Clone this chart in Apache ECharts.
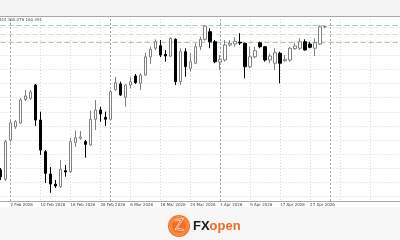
<!DOCTYPE html>
<html>
<head>
<meta charset="utf-8">
<script src="https://cdn.jsdelivr.net/npm/echarts/dist/echarts.min.js"></script>
<style>
html,body{margin:0;padding:0;background:#fff;}
#chart{width:400px;height:240px;}
</style>
</head>
<body>
<div id="chart"></div>
<script>
// Trading-day categories (daily candles)
const dates = ['29 Jan 2026','30 Jan 2026','2 Feb 2026','3 Feb 2026','4 Feb 2026','5 Feb 2026','6 Feb 2026','9 Feb 2026','10 Feb 2026','11 Feb 2026','12 Feb 2026','13 Feb 2026','16 Feb 2026','17 Feb 2026','18 Feb 2026','19 Feb 2026','20 Feb 2026','23 Feb 2026','24 Feb 2026','25 Feb 2026','26 Feb 2026','27 Feb 2026','2 Mar 2026','3 Mar 2026','4 Mar 2026','5 Mar 2026','6 Mar 2026','9 Mar 2026','10 Mar 2026','11 Mar 2026','12 Mar 2026','13 Mar 2026','16 Mar 2026','17 Mar 2026','18 Mar 2026','19 Mar 2026','20 Mar 2026','23 Mar 2026','24 Mar 2026','25 Mar 2026','26 Mar 2026','27 Mar 2026','30 Mar 2026','31 Mar 2026','1 Apr 2026','2 Apr 2026','3 Apr 2026','6 Apr 2026','7 Apr 2026','8 Apr 2026','9 Apr 2026','10 Apr 2026','13 Apr 2026','14 Apr 2026','15 Apr 2026','16 Apr 2026','17 Apr 2026','20 Apr 2026','21 Apr 2026','22 Apr 2026','23 Apr 2026','24 Apr 2026','27 Apr 2026','28 Apr 2026','29 Apr 2026','30 Apr 2026'];
// empty future space on the right of the chart
const futureDates = ['1 May 2026','4 May 2026','5 May 2026','6 May 2026','7 May 2026','8 May 2026','11 May 2026','12 May 2026','13 May 2026','14 May 2026','15 May 2026','18 May 2026','19 May 2026','20 May 2026','21 May 2026'];

const opens  = [149.89,149.23,152.01,152.93,153.21,154.87,154.95,155.89,153.42,151.18,149.60,148.88,148.71,149.84,149.77,151.82,152.13,151.89,151.65,153.47,154.13,153.61,153.47,155.56,155.97,155.03,155.89,156.53,156.01,156.60,157.89,158.49,158.67,158.06,157.94,159.12,156.13,158.25,157.07,157.43,158.60,159.12,159.66,158.95,157.52,157.66,158.72,158.79,158.91,158.84,157.19,157.89,158.88,158.60,157.66,157.43,158.13,157.61,157.66,158.46,158.49,158.95,158.79,158.49,158.79,160.00];
const closes = [149.41,151.89,153.21,153.30,154.83,155.12,155.40,153.42,151.30,149.65,148.90,148.76,149.94,149.75,151.89,152.17,152.22,151.70,153.47,154.13,153.85,153.47,155.42,156.06,155.19,155.89,156.13,156.06,156.60,157.89,158.42,158.95,158.01,157.94,159.19,156.13,158.25,157.19,157.54,158.60,159.12,160.06,158.95,157.54,157.71,158.72,158.84,158.98,158.86,157.19,157.89,158.32,158.60,157.66,157.94,158.18,157.43,157.71,158.49,158.65,158.95,158.37,158.56,158.88,160.01,160.02];
const lows   = [149.18,149.11,151.87,152.79,153.14,154.76,154.83,153.00,150.95,148.97,148.28,148.62,148.62,149.41,149.68,151.53,152.01,150.76,151.58,152.71,153.30,153.00,153.42,155.47,155.12,154.36,155.66,155.97,155.54,156.53,157.38,158.37,157.87,157.54,157.87,155.89,155.89,156.48,156.83,157.38,158.37,159.03,158.49,157.43,156.95,157.54,158.60,158.60,158.72,156.37,157.07,157.78,158.49,157.54,157.43,156.95,156.01,157.54,157.54,158.37,158.37,158.32,158.49,157.94,158.72,159.90];
const highs  = [150.03,152.01,153.42,153.42,154.98,155.54,155.54,155.97,154.01,151.30,150.10,149.18,150.59,150.24,152.15,152.67,152.64,152.01,154.08,154.83,154.36,154.01,155.54,156.46,156.13,155.97,156.44,156.67,156.74,158.18,158.60,159.12,159.07,158.37,159.27,159.19,158.49,158.49,158.13,158.84,159.31,160.11,159.90,159.07,158.01,159.07,159.07,159.27,159.55,158.88,158.60,158.60,158.95,158.65,158.13,158.49,158.25,158.01,158.60,158.88,159.19,159.12,158.95,159.19,160.11,160.09];

const priceGridLevels = [148,149,150,151,152,153,154,155,156,157,158,159,160];
const resistanceLevels = [160.11, 159.48, 158.91];
const monthStartIndex = [2, 22, 44, 66];
const infoText = '160.443 160.076 160.391';

const categories = dates.concat(futureDates);
const candleData = opens.map((o, i) => [o, closes[i], lows[i], highs[i]]);

const chart = echarts.init(document.getElementById('chart'), null, {renderer: 'canvas'});

const gridLines = priceGridLevels.map(v => ({yAxis: v, lineStyle: {color: '#d4d4d4', type: [1, 2], width: 1}}));
const resLines = resistanceLevels.map((v, i) => ({yAxis: v, lineStyle: {color: i === 1 ? '#c4e4c4' : '#9fd19f', type: [5, 3], width: 1}}));
const sepLines = monthStartIndex.map(v => ({xAxis: v, lineStyle: {color: '#a6a6a6', type: [2, 2], width: 1}}));

const option = {
  backgroundColor: '#ffffff',
  animation: false,
  grid: {left: 0.5, right: -0.5, top: 16, bottom: 39},
  xAxis: {
    type: 'category',
    data: categories,
    boundaryGap: false,
    axisLine: {show: true, lineStyle: {color: '#a8a8a8', width: 1}},
    axisTick: {show: false},
    axisLabel: {
      show: true,
      interval: (idx) => idx >= 2 && idx <= 62 && (idx - 2) % 6 === 0,
      fontSize: 4,
      fontFamily: 'DejaVu Sans',
      color: '#404040',
      align: 'left',
      margin: 2,
      hideOverlap: false
    },
    splitLine: {
      show: true,
      interval: (idx) => idx >= 2 && (idx - 2) % 6 === 0,
      lineStyle: {color: '#d8d8d8', type: [1, 2], width: 1}
    }
  },
  yAxis: {
    type: 'value',
    show: false,
    min: 147.696,
    max: 160.770,
    splitLine: {show: false}
  },
  series: [
    {
      type: 'line',
      data: [],
      silent: true,
      markLine: {
        z: 1,
        silent: true,
        symbol: ['none', 'none'],
        label: {show: false},
        animation: false,
        data: gridLines.concat(sepLines).concat(resLines)
      }
    },
    {
      type: 'candlestick',
      z: 3,
      barWidth: 3,
      data: candleData,
      itemStyle: {
        color: '#ffffff',
        color0: '#000000',
        borderColor: '#808080',
        borderColor0: '#000000',
        borderWidth: 1
      }
    }
  ],
  graphic: [
    {type: 'rect', shape: {x: 0, y: 0, width: 400, height: 16}, style: {fill: '#f4f4f4'}, z: 10},
    {type: 'line', shape: {x1: 0, y1: 16.5, x2: 400, y2: 16.5}, style: {stroke: '#a9a9a9', lineWidth: 1}, z: 11},
    {type: 'text', x: 42, y: 19.5, style: {text: infoText, fontSize: 4, fontFamily: 'DejaVu Sans', fill: '#505050', align: 'right', verticalAlign: 'middle'}, z: 11},
    {type: 'rect', shape: {x: 0, y: 207, width: 400, height: 33}, style: {fill: '#f6f6f6'}, z: 10},
    {type: 'circle', shape: {cx: 179, cy: 226, r: 11}, style: {fill: '#f36f21'}, z: 11},
    {type: 'circle', shape: {cx: 179, cy: 226, r: 9.3}, style: {fill: 'none', stroke: '#fbc3a0', lineWidth: 0.6}, z: 12},
    {type: 'circle', shape: {cx: 179, cy: 226, r: 7.6}, style: {fill: 'none', stroke: '#fbc3a0', lineWidth: 0.5}, z: 12},
    {type: 'polyline', shape: {points: [[174.5, 220.5], [182, 219.5], [176, 229], [184, 230]]}, style: {stroke: '#ffffff', lineWidth: 1.8, fill: 'none'}, z: 13},
    {type: 'polyline', shape: {points: [[174.5, 220.5], [182, 219.5], [176, 229], [184, 230]]}, style: {stroke: '#e0520d', lineWidth: 0.8, fill: 'none'}, z: 14},
    {type: 'text', x: 193, y: 226, style: {
      text: '{a|FX}{b|open}',
      verticalAlign: 'middle',
      rich: {
        a: {fontSize: 13, fontWeight: 'bold', fontFamily: 'Liberation Sans', fill: '#1a1a1a'},
        b: {fontSize: 13, fontWeight: 'bold', fontFamily: 'Liberation Sans', fill: '#f26a1f'}
      }
    }, z: 11}
  ]
};
chart.setOption(option);
</script>
</body>
</html>
